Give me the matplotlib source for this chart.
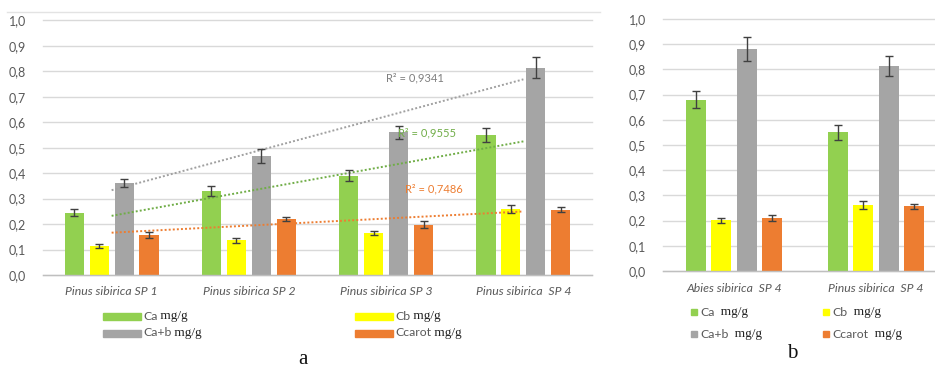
import numpy as np
import matplotlib
matplotlib.use("Agg")
import matplotlib.pyplot as plt
from matplotlib.patches import Rectangle

# ---------------- data ----------------
cats_a = ["Pinus sibirica SP 1", "Pinus sibirica SP 2", "Pinus sibirica SP 3", "Pinus sibirica  SP 4"]
ca_a = [0.245, 0.330, 0.390, 0.550]
cb_a = [0.115, 0.137, 0.165, 0.260]
cab_a = [0.362, 0.467, 0.560, 0.815]
ccar_a = [0.157, 0.220, 0.198, 0.257]
ca_a_err = [0.015, 0.018, 0.022, 0.027]
cb_a_err = [0.008, 0.010, 0.007, 0.015]
cab_a_err = [0.017, 0.027, 0.026, 0.040]
ccar_a_err = [0.010, 0.009, 0.013, 0.010]
r2_labels = ["R² = 0,9341", "R² = 0,9555", "R² = 0,7486"]

cats_b = ["Abies sibirica  SP 4", "Pinus sibirica  SP 4"]
ca_b = [0.680, 0.550]
cb_b = [0.201, 0.262]
cab_b = [0.881, 0.813]
ccar_b = [0.210, 0.257]
ca_b_err = [0.035, 0.029]
cb_b_err = [0.010, 0.015]
cab_b_err = [0.046, 0.040]
ccar_b_err = [0.013, 0.010]

series_names = ["Ca", "Cb", "Ca+b", "Ccarot"]
unit = "mg/g"
yticks = [0.0, 0.1, 0.2, 0.3, 0.4, 0.5, 0.6, 0.7, 0.8, 0.9, 1.0]
ytick_labels = ["0,0", "0,1", "0,2", "0,3", "0,4", "0,5", "0,6", "0,7", "0,8", "0,9", "1,0"]

colors = ["#92d050", "#ffff00", "#a5a5a5", "#ed7d31"]
trend_colors = ["#a0a0a0", "#70ad47", "#ed7d31"]
txt_col = "#595959"
grid_col = "#d9d9d9"
SANS = ["Lato", "DejaVu Sans"]
SERIF = ["Liberation Serif", "DejaVu Serif"]

W, H = 935, 369
fig = plt.figure(figsize=(W / 100, H / 100), dpi=100)


def px_axes(x0, x1, ytop, ybot):
    return fig.add_axes([x0 / W, 1 - ybot / H, (x1 - x0) / W, (ybot - ytop) / H])


def style_axes(ax, cats, xlim, cat_pad):
    ax.set_ylim(0, 1.0)
    ax.set_xlim(*xlim)
    ax.set_yticks(yticks)
    ax.set_yticklabels(ytick_labels, fontfamily=SANS, fontsize=9, color=txt_col)
    ax.set_xticks(range(len(cats)))
    ax.set_xticklabels(cats, fontfamily=SANS, fontsize=8.8, color=txt_col, style="italic")
    ax.tick_params(axis="y", length=0, pad=12)
    ax.tick_params(axis="x", length=0, pad=cat_pad)
    for s in ["top", "right", "left"]:
        ax.spines[s].set_visible(False)
    ax.spines["bottom"].set_color("#bfbfbf")
    ax.spines["bottom"].set_linewidth(1.0)
    ax.grid(axis="y", color=grid_col, linewidth=1.0)
    ax.set_axisbelow(True)
    for gl in ax.get_ygridlines():
        gl.set_clip_on(False)


def draw_bars(ax, vals, errs, width, pitch):
    x = np.arange(len(vals[0]))
    offs = (np.arange(4) - 1.5) * pitch
    for i in range(4):
        ax.bar(x + offs[i], vals[i], width=width, color=colors[i], zorder=2)
        ax.errorbar(x + offs[i], vals[i], yerr=errs[i], fmt="none",
                    ecolor="#404040", elinewidth=1.0, capsize=2.6, capthick=1.0, zorder=4)


def legend_text(x, y, name, fs_sans=8.8, fs_serif=9.5, gap=" "):
    t = fig.text(x / W, 1 - y / H, name, fontfamily=SANS, fontsize=fs_sans,
                 color=txt_col, ha="left", va="center")
    ann = plt.annotate(gap + unit, xy=(1, 0.5), xycoords=t, fontfamily=SERIF,
                       fontsize=fs_serif, color="#222222", ha="left", va="center",
                       annotation_clip=False)
    return t, ann


# ---------------- panel a ----------------
axa = px_axes(43, 592, 20.5, 275)
style_axes(axa, cats_a, (-0.5, 3.5), 8)
draw_bars(axa, [ca_a, cb_a, cab_a, ccar_a], [ca_a_err, cb_a_err, cab_a_err, ccar_a_err], 0.14, 0.182)

xs = np.arange(4)
trend_series = [cab_a, ca_a, ccar_a]
for vals, col in zip(trend_series, trend_colors):
    k, b = np.polyfit(xs, vals, 1)
    axa.plot(xs[[0, -1]], k * xs[[0, -1]] + b, linestyle=(0, (1, 1.1)), color=col,
             linewidth=1.4, zorder=3)

axa.text(2.0, 0.775, r2_labels[0], fontfamily=SANS, fontsize=8, color="#7f7f7f", ha="left", va="center", zorder=5)
axa.text(2.09, 0.56, r2_labels[1], fontfamily=SANS, fontsize=8, color="#70ad47", ha="left", va="center", zorder=5)
axa.text(2.14, 0.34, r2_labels[2], fontfamily=SANS, fontsize=8, color="#ed7d31", ha="left", va="center", zorder=5)

# chart frame top line
fig.add_artist(plt.Line2D([7 / W, 600 / W], [1 - 12 / H, 1 - 12 / H], color="#e3e3e3", linewidth=1.0))

# legend a (manual, mixed fonts)
leg_a = [(103, 316, 0), (355, 316, 1), (103, 333, 2), (355, 333, 3)]
for x, y, i in leg_a:
    fig.add_artist(Rectangle((x / W, 1 - (y + 3.5) / H), 38 / W, 7 / H, color=colors[i],
                             transform=fig.transFigure))
    legend_text(x + 40, y, series_names[i])

fig.text(303 / W, 1 - 360 / H, "a", fontfamily=SERIF, fontsize=15, color="#111111", ha="center", va="center")

# ---------------- panel b ----------------
axb = px_axes(663, 947, 19, 271)
style_axes(axb, cats_b, (-0.5, 1.5), 9)
draw_bars(axb, [ca_b, cb_b, cab_b, ccar_b], [ca_b_err, cb_b_err, cab_b_err, ccar_b_err], 0.14, 0.178)

leg_b = [(691, 312, 0), (823, 312, 1), (691, 334, 2), (823, 334, 3)]
for x, y, i in leg_b:
    fig.add_artist(Rectangle((x / W, 1 - (y + 3) / H), 6 / W, 6 / H, color=colors[i],
                             transform=fig.transFigure))
    legend_text(x + 9, y, series_names[i], gap="  ")

fig.text(792 / W, 1 - 353 / H, "b", fontfamily=SERIF, fontsize=15, color="#111111", ha="center", va="center")

fig.savefig("out.png", dpi=100, facecolor="white")
